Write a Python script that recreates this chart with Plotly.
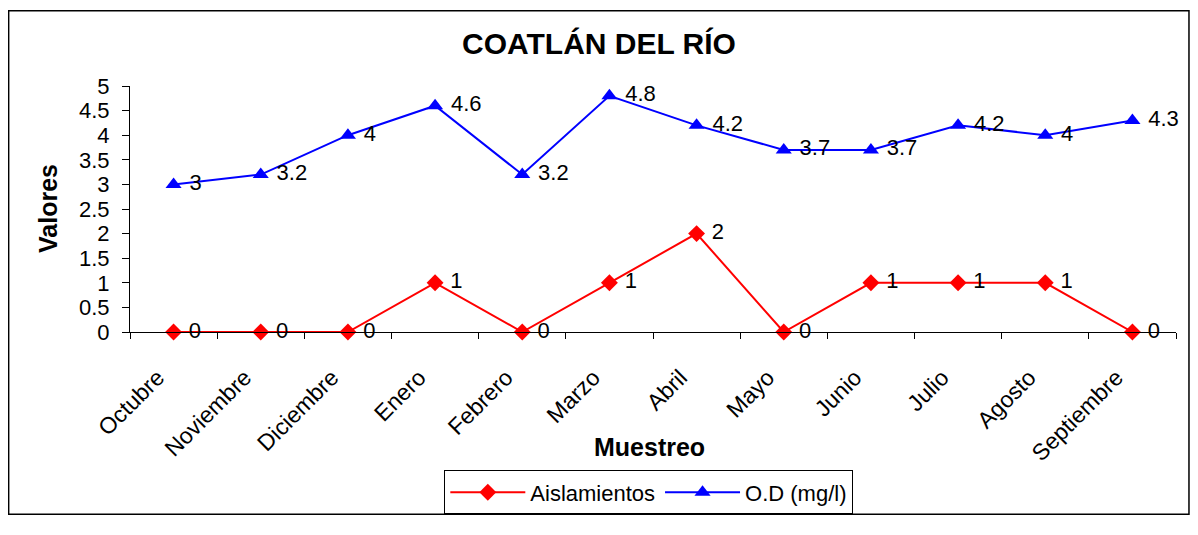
import plotly.graph_objects as go

meses = ["Octubre", "Noviembre", "Diciembre", "Enero", "Febrero", "Marzo",
         "Abril", "Mayo", "Junio", "Julio", "Agosto", "Septiembre"]
aislamientos = [0, 0, 0, 1, 0, 1, 2, 0, 1, 1, 1, 0]
od_mgl = [3, 3.2, 4, 4.6, 3.2, 4.8, 4.2, 3.7, 3.7, 4.2, 4, 4.3]

FONT = "Liberation Sans, Arial, sans-serif"

fig = go.Figure()
fig.add_trace(go.Scatter(
    x=meses, y=aislamientos, name="Aislamientos", mode="lines+markers+text",
    line=dict(color="#ff0000", width=2),
    marker=dict(symbol="diamond", size=13, color="#ff0000"),
    text=[str(v) for v in aislamientos], texttemplate=" %{text}",
    textposition="middle right",
    textfont=dict(size=22, color="black", family=FONT), cliponaxis=False,
))
fig.add_trace(go.Scatter(
    x=meses, y=od_mgl, name="O.D (mg/l)", mode="lines+markers+text",
    line=dict(color="#0000ff", width=2),
    marker=dict(symbol="triangle-up", size=14, color="#0000ff"),
    text=[f"{v:g}" for v in od_mgl], texttemplate=" %{text}",
    textposition="middle right",
    textfont=dict(size=22, color="black", family=FONT), cliponaxis=False,
))

# page body has a margin, so the figure is a bit smaller than the window
fig.update_layout(
    width=1182, height=519,
    margin=dict(l=122, r=14, t=78, b=188),
    paper_bgcolor="white", plot_bgcolor="white",
    font=dict(family=FONT, size=22, color="black"),
    title=dict(text="<b>COATLÁN DEL RÍO</b>", x=0.5, xanchor="center",
               y=0.931, yanchor="middle", font=dict(size=30)),
    showlegend=True,
    legend=dict(orientation="h", x=0.496, xanchor="center", y=-0.563, yanchor="top",
                bordercolor="black", borderwidth=1, font=dict(size=22),
                itemwidth=75),
    annotations=[
        dict(text="<b>Muestreo</b>", xref="paper", yref="paper", x=0.497, y=-0.468,
             xanchor="center", yanchor="middle", showarrow=False, font=dict(size=25)),
        dict(text="<b>Valores</b>", xref="paper", yref="paper", x=-0.0784, y=0.504,
             xanchor="center", yanchor="middle", textangle=-90, showarrow=False,
             font=dict(size=25)),
    ],
    shapes=[dict(type="rect", xref="paper", yref="paper",
                 x0=-0.116, x1=1.0124, y0=-0.7405, y1=1.306,
                 line=dict(color="black", width=1.5))],
)
fig.update_xaxes(
    range=[-0.5, 11.5], showline=True, linecolor="black", linewidth=1,
    ticks="outside", ticklen=6, tickcolor="black", tickson="boundaries",
    tickangle=-45, tickfont=dict(size=23), showgrid=False,
    ticklabelstandoff=22, ticklabelshift=-16,
)
fig.update_yaxes(
    range=[0, 5], dtick=0.5, showline=True, linecolor="black", linewidth=1,
    ticks="outside", ticklen=7, tickcolor="black", tickfont=dict(size=22),
    showgrid=False, zeroline=False, ticklabelstandoff=8,
)

fig.write_html("out.html")
